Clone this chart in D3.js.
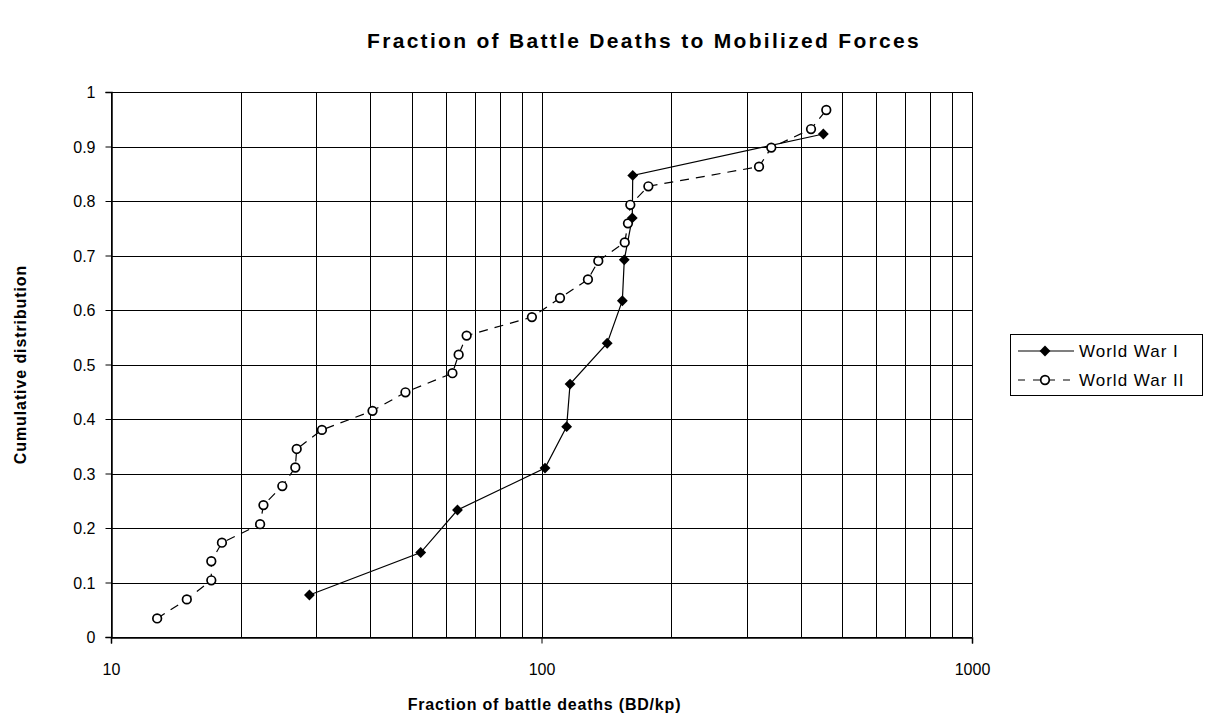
<!DOCTYPE html>
<html>
<head>
<meta charset="utf-8">
<script src="https://cdn.jsdelivr.net/npm/d3@7"></script>
<style>
  body { margin: 0; background: #fff; }
  text { font-family: Arial, "Liberation Sans", sans-serif; fill: #000; }
</style>
</head>
<body>
<div id="chart"></div>
<script>
// World War I: battle deaths per 1000 mobilized, cumulative share
const ww1X = [28.9, 52.4, 63.8, 101.9, 114.4, 116.5, 142.1, 154.1, 155.7, 162.5, 162.9, 451.5];
const ww1Y = [0.077, 0.155, 0.233, 0.310, 0.386, 0.464, 0.539, 0.617, 0.692, 0.769, 0.847, 0.923];

// World War II
const ww2X = [12.8, 15.0, 17.1, 17.1, 18.1, 22.2, 22.6, 25.0, 26.8, 27.0, 30.9, 40.5,
              48.3, 62.1, 64.2, 67.0, 95.0, 110.4, 128.2, 135.5, 156.1, 158.8, 160.8,
              177.1, 320.1, 341.8, 422.7, 458.7];
const ww2Y = [0.034, 0.069, 0.104, 0.139, 0.173, 0.207, 0.242, 0.277, 0.311, 0.345, 0.380, 0.415,
              0.449, 0.484, 0.518, 0.553, 0.587, 0.622, 0.656, 0.690, 0.724, 0.759, 0.793,
              0.827, 0.863, 0.898, 0.932, 0.967];

const yTicks = [0, 0.1, 0.2, 0.3, 0.4, 0.5, 0.6, 0.7, 0.8, 0.9, 1];
const xTicks = [10, 100, 1000];
const seriesNames = ["World War I", "World War II"];

const W = 1205, H = 719;
const margin = {left: 111, top: 92, right: 233, bottom: 82};

const svg = d3.select("#chart").append("svg")
  .attr("width", W)
  .attr("height", H);

const x = d3.scaleLog().domain([10, 1000]).range([margin.left, W - margin.right]);
const y = d3.scaleLinear().domain([0, 1]).range([H - margin.bottom, margin.top]);

// minor log grid values 10..1000
let minor = [];
[10, 100].forEach(function(dec) {
  for (let k = 1; k < 10; k++) minor.push(dec * k);
});
minor.push(1000);

// grid
svg.append("g").selectAll("line.v")
  .data(minor)
  .enter().append("line")
    .attr("x1", d => Math.round(x(d)) + 0.5)
    .attr("x2", d => Math.round(x(d)) + 0.5)
    .attr("y1", y(1))
    .attr("y2", y(0))
    .attr("stroke", "#000")
    .attr("stroke-width", 1);

svg.append("g").selectAll("line.h")
  .data(yTicks)
  .enter().append("line")
    .attr("x1", x(10))
    .attr("x2", x(1000))
    .attr("y1", d => Math.round(y(d)) + 0.5)
    .attr("y2", d => Math.round(y(d)) + 0.5)
    .attr("stroke", "#000")
    .attr("stroke-width", 1);

// axes
const yAxis = d3.axisLeft(y).tickValues(yTicks).tickSize(6).tickPadding(10)
  .tickFormat(d => d3.format("")(d));
const gy = svg.append("g")
  .attr("transform", "translate(" + (Math.round(x(10)) + 0.5) + ",0)")
  .call(yAxis);
gy.selectAll("text").style("font-size", "16px").attr("dy", "0.35em");

const xAxis = d3.axisBottom(x).tickValues(xTicks).tickSize(6).tickPadding(20)
  .tickFormat(d3.format("d"));
const gx = svg.append("g")
  .attr("transform", "translate(0," + (Math.round(y(0)) + 0.5) + ")")
  .call(xAxis);
gx.selectAll("text").style("font-size", "16px");
svg.selectAll(".domain").attr("stroke", "#000").attr("stroke-width", 1.5);
svg.selectAll(".tick line").attr("stroke", "#000");

// lines
const ww1 = ww1X.map((v, i) => ({x: v, y: ww1Y[i]}));
const ww2 = ww2X.map((v, i) => ({x: v, y: ww2Y[i]}));

const line = d3.line().x(d => x(d.x)).y(d => y(d.y));

svg.append("path")
  .datum(ww2)
  .attr("d", line)
  .attr("fill", "none")
  .attr("stroke", "#000")
  .attr("stroke-width", 1.2)
  .attr("stroke-dasharray", "9,7");

svg.append("path")
  .datum(ww1)
  .attr("d", line)
  .attr("fill", "none")
  .attr("stroke", "#000")
  .attr("stroke-width", 1.2);

const diamond = d3.symbol().type(d3.symbolDiamond2).size(75);

svg.append("g").selectAll("circle")
  .data(ww2)
  .enter().append("circle")
    .attr("cx", d => x(d.x))
    .attr("cy", d => y(d.y))
    .attr("r", 4.3)
    .attr("fill", "#fff")
    .attr("stroke", "#000")
    .attr("stroke-width", 1.7);

svg.append("g").selectAll("path.dm")
  .data(ww1)
  .enter().append("path")
    .attr("transform", d => "translate(" + x(d.x) + "," + y(d.y) + ")")
    .attr("d", diamond)
    .attr("fill", "#000");

// title
svg.append("text")
  .attr("x", 644)
  .attr("y", 48)
  .attr("text-anchor", "middle")
  .style("font-size", "21px")
  .style("font-weight", "bold")
  .style("letter-spacing", "2.3px")
  .text("Fraction of Battle Deaths to Mobilized Forces");

// axis titles
svg.append("text")
  .attr("x", (x(10) + x(1000)) / 2 + 3)
  .attr("y", 710)
  .attr("text-anchor", "middle")
  .style("font-size", "16px")
  .style("font-weight", "bold")
  .style("letter-spacing", "0.8px")
  .text("Fraction of battle deaths (BD/kp)");

svg.append("text")
  .attr("transform", "translate(26," + y(0.5) + ") rotate(-90)")
  .attr("text-anchor", "middle")
  .style("font-size", "16px")
  .style("font-weight", "bold")
  .style("letter-spacing", "0.9px")
  .text("Cumulative distribution");

// legend
const legend = svg.append("g").attr("transform", "translate(1010,334)");
legend.append("rect")
  .attr("x", 0.5).attr("y", 0.5)
  .attr("width", 192).attr("height", 61)
  .attr("fill", "#fff")
  .attr("stroke", "#000")
  .attr("stroke-width", 1);

const rows = legend.selectAll("g.row")
  .data(seriesNames)
  .enter().append("g")
    .attr("transform", (d, i) => "translate(0," + (17 + i * 29) + ")");

rows.append("line")
  .attr("x1", 8).attr("x2", 64)
  .attr("stroke", "#000")
  .attr("stroke-width", 1.2)
  .attr("stroke-dasharray", (d, i) => i === 1 ? "7,8" : null);

rows.filter((d, i) => i === 0).append("path")
  .attr("transform", "translate(35,0)")
  .attr("d", diamond)
  .attr("fill", "#000");

rows.filter((d, i) => i === 1).append("circle")
  .attr("cx", 35).attr("r", 4.3)
  .attr("fill", "#fff")
  .attr("stroke", "#000")
  .attr("stroke-width", 1.7);

rows.append("text")
  .attr("x", 69)
  .attr("dy", "0.35em")
  .style("font-size", "17px")
  .style("letter-spacing", "1px")
  .text(d => d);
</script>
</body>
</html>
